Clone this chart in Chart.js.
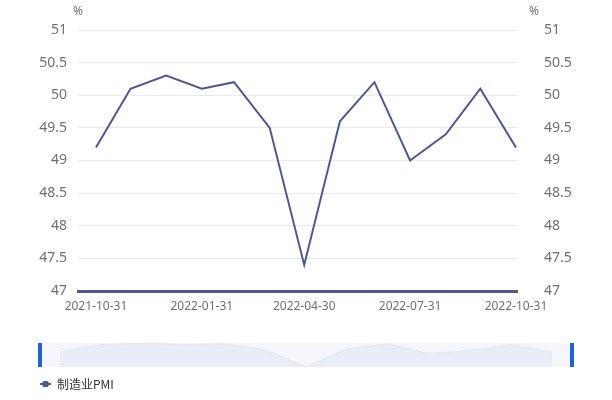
<!DOCTYPE html>
<html>
<head>
<meta charset="utf-8">
<script src="https://cdn.jsdelivr.net/npm/chart.js@4"></script>
<style>
  html, body { margin: 0; padding: 0; background: #fff; }
  #wrap { position: relative; width: 612px; height: 400px; }
  #slider-bg { position: absolute; left: 40px; top: 343px; width: 532px; height: 24px; background: #f4f6fb; }
  .handle { position: absolute; top: 343px; width: 4px; height: 24px; background: #2163d2; }
  #shadow { position: absolute; left: 60px; top: 343px; }
</style>
</head>
<body>
<div id="wrap">
  <canvas id="myChart" width="612" height="400"></canvas>
  <div id="slider-bg"></div>
  <canvas id="shadow" width="492" height="24"></canvas>
  <div class="handle" style="left:38px"></div>
  <div class="handle" style="left:570px"></div>
</div>
<script>
Chart.defaults.font.family = '"Noto Sans", "Noto Sans CJK SC", sans-serif';
Chart.defaults.color = '#6e7079';

// 월말 날짜와 제조업 PMI
var dates = ['2021-10-31', '2021-11-30', '2021-12-31', '2022-01-31', '2022-02-28', '2022-03-31',
             '2022-04-30', '2022-05-31', '2022-06-30', '2022-07-31', '2022-08-31', '2022-09-30', '2022-10-31'];
var pmi = [49.2, 50.1, 50.3, 50.1, 50.2, 49.5, 47.4, 49.6, 50.2, 49.0, 49.4, 50.1, 49.2];
var tickDates = ['2021-10-31', '2022-01-31', '2022-04-30', '2022-07-31', '2022-10-31'];
var seriesName = '制造业PMI';
var unit = '%';

var lineColor = '#4d5791';

function dayOf(s) {
    return (Date.parse(s) - Date.parse(dates[0])) / 864e5;
}

// 범례 아이콘 (선 + 작은 사각형)
var icon = document.createElement('canvas');
icon.width = 11; icon.height = 8;
var ic = icon.getContext('2d');
ic.fillStyle = lineColor;
ic.fillRect(0, 3, 11, 2);
ic.beginPath();
ic.roundRect(2.5, 1, 6, 6, 1.5);
ic.fill();

var unitLabels = {
    id: 'unitLabels',
    afterDraw: function (chart) {
        var c = chart.ctx;
        c.save();
        c.font = '12px "Noto Sans", sans-serif';
        c.fillStyle = '#6e7079';
        c.textAlign = 'center';
        c.textBaseline = 'middle';
        c.fillText(unit, chart.chartArea.left, 12);
        c.fillText(unit, chart.chartArea.right + 17, 12);
        c.restore();
    }
};

var ctx = document.getElementById('myChart').getContext('2d');
var myChart = new Chart(ctx, {
    type: 'line',
    data: {
        datasets: [{
            label: seriesName,
            data: dates.map(function (d, i) { return { x: dayOf(d), y: pmi[i] }; }),
            borderColor: lineColor,
            backgroundColor: lineColor,
            borderWidth: 2,
            pointRadius: 0,
            pointStyle: icon,
            tension: 0,
            yAxisID: 'y'
        }]
    },
    options: {
        responsive: false,
        animation: false,
        layout: { padding: { left: 30, right: 0, top: 30, bottom: 0 } },
        plugins: {
            tooltip: { enabled: false },
            legend: {
                position: 'bottom',
                align: 'start',
                labels: {
                    usePointStyle: true,
                    boxWidth: 11,
                    boxHeight: 8,
                    padding: 10,
                    color: '#333',
                    font: { size: 12, family: '"Noto Sans CJK SC", "Noto Sans", sans-serif' }
                }
            }
        },
        scales: {
            x: {
                type: 'linear',
                min: -15.6,
                max: 365.9,
                grid: { display: false, drawTicks: false },
                border: { display: true, color: lineColor, width: 3 },
                afterBuildTicks: function (scale) {
                    scale.ticks = tickDates.map(function (d) { return { value: dayOf(d) }; });
                },
                afterFit: function (scale) { scale.height = 77; },
                ticks: {
                    padding: 8,
                    maxRotation: 0,
                    autoSkip: false,
                    font: { size: 12 },
                    callback: function (v) {
                        for (var i = 0; i < tickDates.length; i++) {
                            if (Math.abs(dayOf(tickDates[i]) - v) < 0.01) return tickDates[i];
                        }
                        return '';
                    }
                }
            },
            y: {
                position: 'left',
                min: 47,
                max: 51,
                grid: { color: '#e6e9f0', lineWidth: 1, drawTicks: false },
                border: { display: false },
                afterFit: function (scale) {
                    scale.width = 48;
                    scale.paddingTop = 0;
                    scale.paddingBottom = 0;
                },
                ticks: {
                    stepSize: 0.5,
                    padding: 11,
                    font: { size: 14 },
                    callback: function (v) { return String(v); }
                }
            },
            y2: {
                position: 'right',
                min: 47,
                max: 51,
                grid: { display: false, drawTicks: false },
                border: { display: false },
                afterFit: function (scale) {
                    scale.width = 95;
                    scale.paddingTop = 0;
                    scale.paddingBottom = 0;
                },
                ticks: {
                    stepSize: 0.5,
                    padding: 27,
                    font: { size: 14 },
                    callback: function (v) { return String(v); }
                }
            }
        }
    },
    plugins: [unitLabels]
});

// 데이터줌 미리보기 영역
var sctx = document.getElementById('shadow').getContext('2d');
var shadow = new Chart(sctx, {
    type: 'line',
    data: {
        labels: dates,
        datasets: [{
            data: pmi,
            borderColor: '#dfe5f2',
            borderWidth: 1,
            backgroundColor: '#e8edf8',
            fill: 'start',
            pointRadius: 0,
            tension: 0
        }]
    },
    options: {
        responsive: false,
        animation: false,
        layout: { padding: 0 },
        plugins: { legend: { display: false }, tooltip: { enabled: false } },
        scales: {
            x: { display: false, offset: false },
            y: { display: false, min: Math.min.apply(null, pmi), max: Math.max.apply(null, pmi) }
        }
    }
});
</script>
</body>
</html>
